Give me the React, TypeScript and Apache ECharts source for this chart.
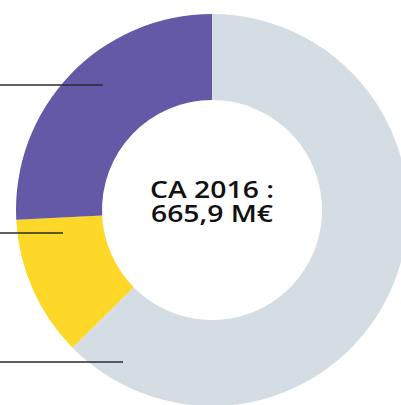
import React, { useEffect, useRef } from "react";
import * as echarts from "echarts";

const categories = ["Autres", "Segment B", "Segment A"];
const shares = [62.6, 11.6, 25.8];
const colors = ["#D4DDE4", "#FDD828", "#6459A6"];
const centerLines = ["CA 2016 :", "665,9 M€"];
const centerLinesY = [188.5, 213];
const leaderLinesY = [85, 233, 362];
const leaderLinesEnd = [103, 63, 123];

export default function App() {
  const ref = useRef<HTMLDivElement>(null);
  useEffect(() => {
    const chart = echarts.init(ref.current!, null, { renderer: "svg" });
    chart.setOption({
      animation: false,
      series: [
        {
          type: "pie",
          center: [212, 210],
          radius: [110, 196],
          startAngle: 90,
          clockwise: true,
          label: { show: false },
          labelLine: { show: false },
          emphasis: { disabled: true },
          itemStyle: { borderWidth: 0 },
          data: categories.map((name, i) => ({
            name,
            value: shares[i],
            itemStyle: { color: colors[i] },
          })),
        },
      ],
      graphic: [
        ...centerLines.map((t, i) => ({
          type: "text",
          x: 212,
          y: centerLinesY[i],
          scaleX: 1.18,
          z: 10,
          style: {
            text: t,
            fill: "#111111",
            font: "600 24px 'Open Sans'",
            align: "center",
            verticalAlign: "middle",
          },
        })),
        ...leaderLinesY.map((y, i) => ({
          type: "line",
          z: 10,
          shape: { x1: 0, y1: y, x2: leaderLinesEnd[i], y2: y },
          style: { stroke: "#2a2a2e", lineWidth: 1.5 },
        })),
      ],
    });
    return () => chart.dispose();
  }, []);
  return (
    <div
      ref={ref}
      style={{ position: "fixed", left: 0, top: 0, width: 401, height: 405, background: "#fff" }}
    />
  );
}
